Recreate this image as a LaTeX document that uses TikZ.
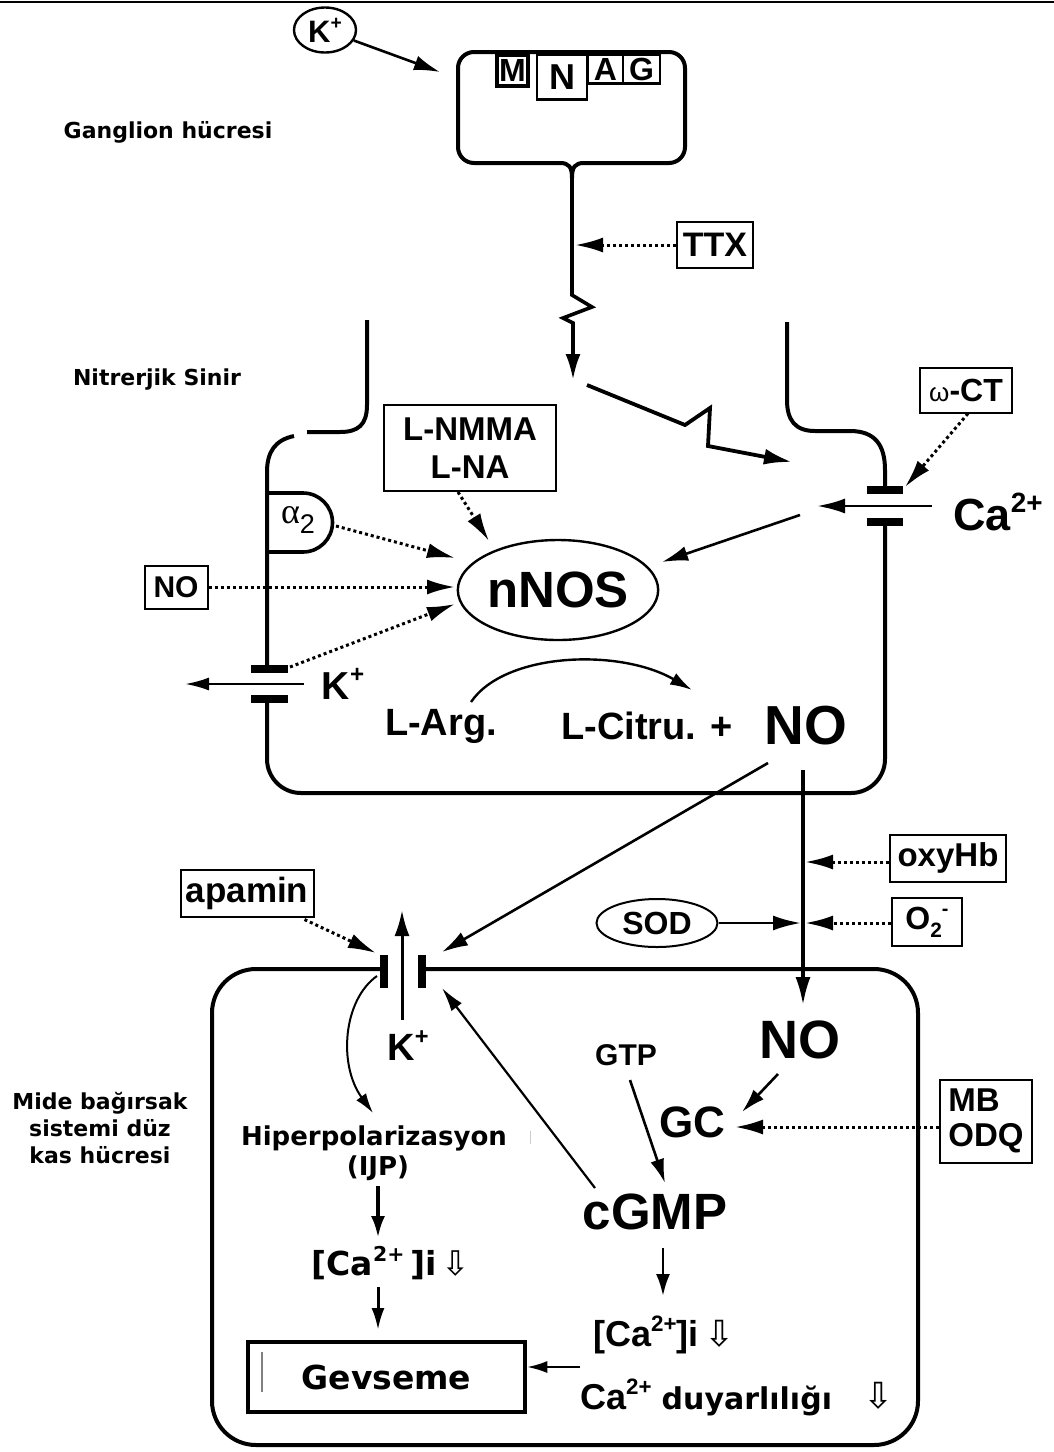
\documentclass[tikz,border=0pt]{standalone}
\usepackage{graphicx}
\usepackage{fontspec}
\setmainfont{Liberation Sans}
\newfontfamily\dvs{DejaVu Sans}
\newfontfamily\lserif{Liberation Serif}
\usetikzlibrary{arrows.meta,shapes.geometric}
\newcommand\myfs[1]{\fontsize{#1}{#1}\selectfont}
\newcommand\supp[1]{\raisebox{0.42em}{\scalebox{0.62}{#1}}}
\begin{document}
\begin{tikzpicture}[x=1pt,y=-1pt,
  cell/.style={line width=4pt},
  sarr/.style={line width=2.6pt,-{Latex[length=26pt,width=15pt]}},
  tarr/.style={line width=2pt,-{Latex[length=20pt,width=12pt]}},
  darr/.style={line width=3pt,dash pattern=on 3pt off 3pt,-{Latex[length=28pt,width=15pt]}},
  lbox/.style={draw,line width=2pt,inner sep=0pt},
  chbar/.style={line width=8pt},
  tx/.style={inner sep=0pt,font=\bfseries},
  dv/.style={inner sep=0pt,font=\dvs\bfseries},
]
\useasboundingbox (0,0) rectangle (1054,1452);
\fill[white] (0,0) rectangle (1054,1452);
\draw[line width=1.8pt] (0,2) -- (1054,2);

% ---------- ganglion cell ----------
\node[draw,ellipse,line width=2.4pt,minimum width=62pt,minimum height=45pt,inner sep=0pt,font=\bfseries\myfs{31}] (kout) at (325,30) {K\supp{+}};
\coordinate (gin) at (440,72);
\draw[sarr] (kout.-20) -- (gin);

\draw[cell,rounded corners=16pt] (560,163) -- (458,163) -- (458,52) -- (685,52) -- (685,163) -- (584,163);
\draw[cell] (560,163) .. controls (569,163) and (572,167) .. (572,178);
\draw[cell] (584,163) .. controls (575,163) and (572,167) .. (572,178);

\node[draw,line width=4pt,minimum width=31pt,minimum height=31pt,inner sep=0pt,font=\bfseries\myfs{32}] (rm) at (512.5,70) {M};
\node[draw,line width=2.8pt,minimum width=50pt,minimum height=45pt,inner sep=0pt,font=\bfseries\myfs{36}] (rn) at (562,77) {N};
\node[draw,line width=2.4pt,minimum width=35pt,minimum height=29pt,inner sep=0pt,font=\bfseries\myfs{32}] (ra) at (605.5,69) {A};
\node[draw,line width=2.4pt,minimum width=37pt,minimum height=29pt,inner sep=0pt,font=\bfseries\myfs{32}] (rg) at (641.5,69) {G};

\node[tx,font=\dvs\bfseries\myfs{22}] (lgang) at (168,132) {Ganglion hücresi};

\node[lbox,minimum width=76pt,minimum height=46pt,font=\bfseries\myfs{34}] (ttx) at (715,245) {TTX};
\coordinate (ttxhit) at (575,245);
\draw[darr] (ttx.west) -- (ttxhit);

\coordinate (stemtop) at (572,178);
\coordinate (zz1) at (573,380);
\draw[line width=3.6pt,-{Latex[length=26pt,width=15pt]}] (stemtop) -- (572,295) -- (592,307) -- (563,318) -- (573,323) -- (zz1);

\coordinate (zz2s) at (587,385);
\coordinate (zz2e) at (792,462);
\draw[line width=3.8pt,-{Latex[length=28pt,width=16pt]}] (zz2s) -- (685,425) -- (710,408) -- (708,446) -- (zz2e);

% ---------- nitrergic nerve ----------
\node[tx,font=\dvs\bfseries\myfs{22}] (lnit) at (157,380) {Nitrerjik Sinir};

\draw[cell] (367,320) -- (367,405) .. controls (367,425) and (358,432) .. (340,432) -- (307,432);
\draw[cell] (294,436) .. controls (275,440) and (267,452) .. (267,472) -- (267,665);
\draw[chbar] (251,669) -- (288,669);
\draw[chbar] (251,699) -- (288,699);
\coordinate (kchr) at (304,684);
\coordinate (kchl) at (185,684);
\draw[line width=2.4pt,-{Latex[length=24pt,width=13pt]}] (kchr) -- (kchl);
\node[tx,font=\bfseries\myfs{39}] (kn) at (343,684) {K\supp{+}};
\draw[cell,rounded corners=34pt] (267,703) -- (267,793) -- (885,793) -- (885,526);

\draw[chbar] (867,490) -- (903,490);
\draw[chbar] (867,522) -- (903,522);
\draw[cell] (885,486) -- (885,470) .. controls (885,445) and (875,431) .. (850,431) -- (815,431) .. controls (795,431) and (787,420) .. (787,400) -- (787,322);
\coordinate (cain0) at (932,506);
\coordinate (cain1) at (817,506);
\draw[line width=2.8pt,-{Latex[length=28pt,width=15pt]}] (cain0) -- (cain1);
\node[tx,font=\bfseries\myfs{45}] (ca) at (998,512) {Ca\supp{2+}};

\node[lbox,minimum width=92pt,minimum height=45pt,font=\bfseries\myfs{32}] (wct) at (966,390) {{\mdseries\myfs{26}ω}-CT};
\coordinate (cahit) at (905,487);
\draw[darr] ([xshift=2pt]wct.south) -- (cahit);

\node[draw,ellipse,line width=2.4pt,minimum width=194pt,minimum height=100pt,inner sep=0pt,font=\bfseries\myfs{51}] (nnos) at (558,590) {nNOS};

\coordinate (caout) at (800,515);
\coordinate (tCa) at (662,562);
\draw[sarr] (caout) -- (tCa);

\node[lbox,minimum width=172pt,minimum height=86pt,align=center,font=\bfseries\fontsize{33}{38}\selectfont] (lnmma) at (470,448) {L-NMMA\\L-NA};

\draw[line width=3.6pt] (267,493) -- (303,493) arc[start angle=90,end angle=-90,radius=29.5pt] -- (267,552);
\node[inner sep=0pt,font=\myfs{36}] (a2) at (298,520) {{\lserif α}\raisebox{-0.3em}{\scalebox{0.75}{2}}};

\node[lbox,minimum width=63pt,minimum height=43pt,font=\bfseries\myfs{30}] (nobox) at (176,587) {NO};

\coordinate (a2r) at (336,526);
\coordinate (tA) at (455,558);
\coordinate (tN) at (455,587);
\coordinate (kup) at (290,667);
\coordinate (tK) at (455,604);
\coordinate (tL) at (489,541);
\draw[darr] (a2r) -- (tA);
\draw[darr] (nobox.east) -- (tN);
\draw[darr] (kup) -- (tK);
\draw[darr] ([xshift=-12pt]lnmma.south) -- (tL);

\node[tx,font=\bfseries\myfs{38}] (larg) at (441,726) {L-Arg.};
\node[tx,font=\bfseries\myfs{38}] (lcit) at (647,726) {L-Citru. +};
\node[tx,font=\bfseries\myfs{55}] (nonerve) at (806,726) {NO};

\coordinate (arcS) at (471,702);
\coordinate (arcE) at (692,690);
\draw[line width=2.4pt,-{Latex[length=22pt,width=13pt]}] (arcS) .. controls (505,652) and (620,648) .. (arcE);

% ---------- NO diffusion ----------
\coordinate (noA) at (768,763);
\coordinate (kchR) at (442,952);
\draw[line width=2.6pt,-{Latex[length=26pt,width=15pt]}] (noA) -- (kchR);
\coordinate (noB) at (803,770);
\coordinate (nomusc) at (803,1005);
\draw[line width=3.2pt,-{Latex[length=28pt,width=15pt]}] (noB) -- (nomusc);

\node[lbox,minimum width=116pt,minimum height=47pt,font=\bfseries\myfs{33}] (oxy) at (948,858) {oxyHb};
\coordinate (oxyhit) at (805,862);
\draw[darr] (oxy.west |- oxyhit) -- (oxyhit);

\node[lbox,minimum width=70pt,minimum height=48pt,font=\bfseries\myfs{32}] (o2) at (927,922) {O\raisebox{-0.25em}{\scalebox{0.65}{2}}\supp{-}};
\coordinate (o2hit) at (805,923);
\draw[darr] (o2.west |- o2hit) -- (o2hit);

\node[draw,ellipse,line width=2pt,minimum width=121pt,minimum height=48pt,inner sep=0pt,font=\bfseries\myfs{32}] (sod) at (657,923) {SOD};
\coordinate (sodhit) at (801,923);
\draw[line width=2.8pt,-{Latex[length=28pt,width=15pt]}] (sod.east) -- (sodhit);

% ---------- smooth muscle cell ----------
\node[tx,font=\dvs\bfseries\fontsize{22}{27}\selectfont,align=center] (lmus) at (100,1128) {Mide bağırsak\\sistemi düz\\kas hücresi};

\draw[cell,rounded corners=44pt] (384,969) -- (212,969) -- (212,1445) -- (918,1445) -- (918,969) -- (422,969);
\draw[chbar] (384,955) -- (384,988);
\draw[chbar] (422,955) -- (422,988);
\coordinate (kb) at (402,1020);
\coordinate (kt) at (402,910);
\draw[line width=3pt,-{Latex[length=26pt,width=15pt]}] (kb) -- (kt);
\node[tx,font=\bfseries\myfs{38}] (km) at (408,1046) {K\supp{+}};

\node[lbox,minimum width=133pt,minimum height=47pt,font=\bfseries\myfs{35}] (apamin) at (247,893) {apamin};
\coordinate (aphit) at (376,953);
\draw[darr] ([xshift=-10pt,yshift=-2pt]apamin.south east) -- (aphit);

\coordinate (kcurS) at (377,976);
\coordinate (hypT) at (373,1113);
\draw[tarr] (kcurS) .. controls (343,1000) and (338,1065) .. (hypT);

\coordinate (cgS) at (595,1188);
\coordinate (cgT) at (442,988);
\draw[line width=2.2pt,-{Latex[length=24pt,width=13pt]}] (cgS) -- (cgT);

\node[dv,font=\dvs\bfseries\myfs{26}] (hyp) at (374,1138) {Hiperpolarizasyon};
\node[dv,font=\dvs\bfseries\myfs{26}] (ijp) at (378,1168) {(IJP)};
\draw[line width=4pt,-{Latex[length=22pt,width=14pt]}] (378,1186) coordinate (ijpb) -- (378,1238) coordinate (ca1t);
\node[dv,font=\dvs\bfseries\myfs{33}] (ca1) at (391,1263) {[Ca\supp{2+}\,]i\,{\mdseries\myfs{34}⇩}};
\draw[line width=3pt,-{Latex[length=22pt,width=13pt]}] (378,1287) coordinate (ca1b) -- (378,1330) coordinate (gevt);

\node[draw,line width=4.5pt,minimum width=277pt,minimum height=70pt,inner sep=0pt,font=\dvs\bfseries\myfs{33}] (gev) at (386.5,1377) {Gevseme};
\draw[line width=1.2pt,gray] (262,1352) -- (262,1392);
\draw[line width=1pt,gray!40] (530,1131) -- (530,1144);

\node[tx,font=\bfseries\myfs{54}] (nom) at (800,1040) {NO};
\node[tx,font=\bfseries\myfs{30}] (gtp) at (626,1055) {GTP};
\node[tx,font=\bfseries\myfs{44}] (gc) at (692,1122) {GC};
\node[tx,font=\bfseries\myfs{51}] (cgmp) at (655,1212) {cGMP};
\node[lbox,minimum width=92pt,minimum height=83pt,align=left,font=\bfseries\fontsize{33}{35}\selectfont] (mb) at (986,1121) {MB\\ODQ};

\coordinate (nomS) at (778,1074);
\coordinate (gcT) at (742,1112);
\draw[line width=2.6pt,-{Latex[length=24pt,width=14pt]}] (nomS) -- (gcT);
\coordinate (gcR) at (735,1127);
\draw[darr] (mb.west |- gcR) -- (gcR);
\coordinate (gtpS) at (630,1080);
\coordinate (cgmpT) at (665,1183);
\draw[line width=2.6pt,-{Latex[length=24pt,width=14pt]}] (gtpS) -- (cgmpT);
\coordinate (cgmpB) at (663,1248);
\coordinate (ca2T) at (663,1296);
\draw[line width=2.8pt,-{Latex[length=22pt,width=14pt]}] (cgmpB) -- (ca2T);

\node[tx,font=\bfseries\myfs{36}] (ca2) at (664,1335) {[Ca\supp{2+}]i\,{\dvs\mdseries\myfs{36}⇩}};
\node[tx,anchor=west,font=\bfseries\myfs{36}] (ca3) at (580,1397) {Ca\supp{2+} {\dvs\myfs{30}duyarlılığı}};
\node[inner sep=0pt,font=\dvs\myfs{36}] (dar) at (879,1396) {⇩};
\coordinate (ca3L) at (580,1367);
\draw[tarr] (ca3L) -- (gev.east |- ca3L);
\end{tikzpicture}
\end{document}
